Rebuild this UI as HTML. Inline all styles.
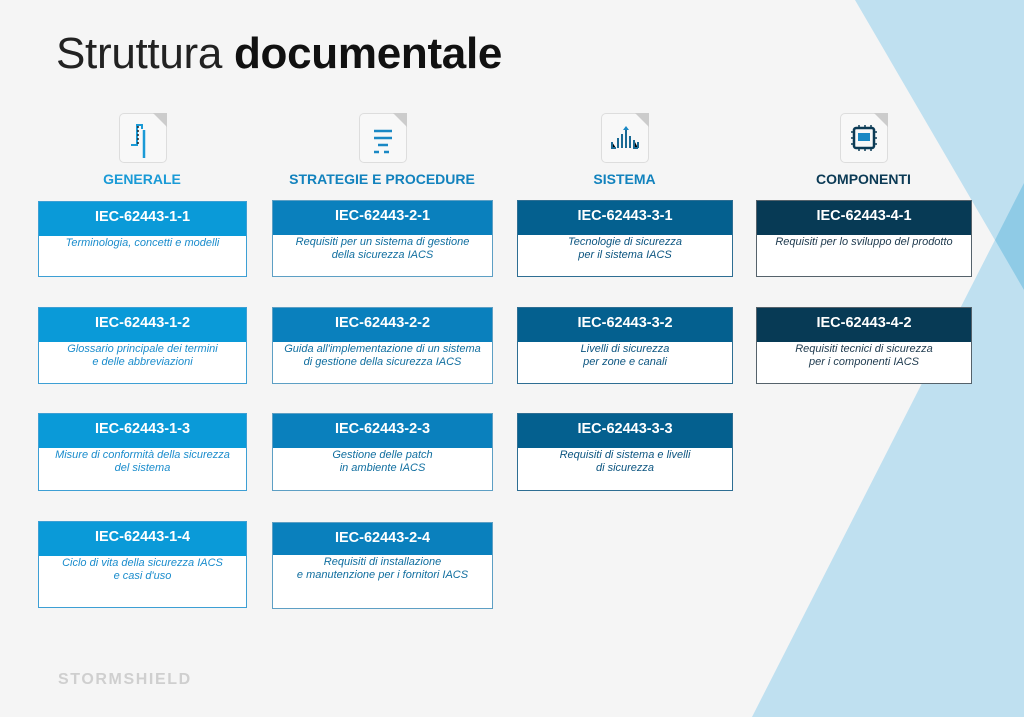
<!DOCTYPE html>
<html><head><meta charset="utf-8"><style>
body{margin:0;width:1024px;height:717px;background:#f5f5f5;position:relative;overflow:hidden;font-family:"Liberation Sans",sans-serif}
.bg{position:absolute;left:0;top:0}
.t{position:absolute;left:56px;top:29px;font-size:44px;color:#111;letter-spacing:-0.3px}
.t span{color:#222}
.t b{font-weight:bold}
.h{position:absolute;top:171px;font-size:14px;font-weight:bold;text-align:center}
.ic{position:absolute;top:113px;width:46px;height:48px;border:1.5px solid #ddd;border-radius:5px;background:#f8f8f8}
.ic:after{content:"";position:absolute;right:-1px;top:-1px;border-style:solid;border-width:0 14px 14px 0;border-color:transparent #ccc transparent transparent}
.b{position:absolute;background:#fff;box-sizing:border-box;border:1.5px solid}
.b .hd{color:#fff;font-weight:bold;font-size:14.5px;text-align:center;height:34px;line-height:30px}
.b .tx{font-style:italic;font-size:11px;text-align:center;line-height:13px;margin-top:1px}
.c1{border-color:#3d9fd4}.c1 .hd{background:#0a9ad8}.c1 .tx{color:#1a8ccc}
.c2{border-color:#5d9fc4}.c2 .hd{background:#0a80bd}.c2 .tx{color:#106e9f}
.c3{border-color:#2e6e93}.c3 .hd{background:#04608f}.c3 .tx{color:#0c5580}
.c4{border-color:#55626b}.c4 .hd{background:#073a55}.c4 .tx{color:#1e3a4e}
.logo{position:absolute;left:58px;top:671px;font-size:16px;font-weight:bold;color:#cfcfcf;letter-spacing:1.6px}
</style></head><body>
<svg class="bg" width="1024" height="717">
<polygon points="855,0 1024,0 1024,290" fill="#bfe0f0"/>
<polygon points="752,717 1024,183 1024,717" fill="#bfe0f0"/>
<polygon points="995,240 1024,183 1024,290" fill="#8fcbe6"/>
</svg>
<div class="t"><span>Struttura</span> <b>documentale</b></div>

<div class="ic" style="left:119px"><svg width="46" height="48"><path d="M11 31h6V11h5v4" stroke="#1a9ad6" stroke-width="2" fill="none"/><path d="M18 12v18" stroke="#222" stroke-width="1.5" stroke-dasharray="2 2"/><path d="M24 16v28" stroke="#1a9ad6" stroke-width="2.5"/></svg></div>
<div class="ic" style="left:359px"><svg width="46" height="48"><path d="M14 17h18M14 24h18M18 31h10M14 38h5M24 38h5" stroke="#1a88c4" stroke-width="2.5"/></svg></div>
<div class="ic" style="left:601px"><svg width="46" height="48"><path d="M10 28v6h4M16 24v10M20 20v14M24 14v20M28 22v12M32 26v8h4M36 28v6" stroke="#1a6a94" stroke-width="2"/><path d="M24 12l-3 4h6z" fill="#1a88c4"/></svg></div>
<div class="ic" style="left:840px"><svg width="46" height="48"><rect x="13" y="14" width="20" height="20" rx="2" fill="none" stroke="#0b3a55" stroke-width="2.5"/><rect x="17" y="19" width="12" height="8" fill="#1a88c4"/><path d="M10 18h3M10 24h3M10 30h3M33 18h3M33 24h3M33 30h3M18 11v3M24 11v3M30 11v3M18 34v3M24 34v3M30 34v3" stroke="#0b3a55" stroke-width="1.5"/></svg></div>

<div class="h" style="left:38px;width:208px;color:#1a9ad6">GENERALE</div>
<div class="h" style="left:272px;width:220px;color:#1282bd">STRATEGIE E PROCEDURE</div>
<div class="h" style="left:517px;width:215px;color:#1282bd">SISTEMA</div>
<div class="h" style="left:756px;width:215px;color:#0b3a55">COMPONENTI</div>

<div class="b c1" style="left:38px;top:201px;width:209px;height:76px"><div class="hd">IEC-62443-1-1</div><div class="tx">Terminologia, concetti e modelli</div></div>
<div class="b c1" style="left:38px;top:307px;width:209px;height:77px"><div class="hd">IEC-62443-1-2</div><div class="tx">Glossario principale dei termini<br>e delle abbreviazioni</div></div>
<div class="b c1" style="left:38px;top:413px;width:209px;height:78px"><div class="hd">IEC-62443-1-3</div><div class="tx">Misure di conformità della sicurezza<br>del sistema</div></div>
<div class="b c1" style="left:38px;top:521px;width:209px;height:87px"><div class="hd">IEC-62443-1-4</div><div class="tx">Ciclo di vita della sicurezza IACS<br>e casi d'uso</div></div>

<div class="b c2" style="left:272px;top:200px;width:221px;height:77px"><div class="hd">IEC-62443-2-1</div><div class="tx">Requisiti per un sistema di gestione<br>della sicurezza IACS</div></div>
<div class="b c2" style="left:272px;top:307px;width:221px;height:77px"><div class="hd">IEC-62443-2-2</div><div class="tx">Guida all'implementazione di un sistema<br>di gestione della sicurezza IACS</div></div>
<div class="b c2" style="left:272px;top:413px;width:221px;height:78px"><div class="hd">IEC-62443-2-3</div><div class="tx">Gestione delle patch<br>in ambiente IACS</div></div>
<div class="b c2" style="left:272px;top:522px;width:221px;height:87px"><div class="hd" style="height:32px">IEC-62443-2-4</div><div class="tx">Requisiti di installazione<br>e manutenzione per i fornitori IACS</div></div>

<div class="b c3" style="left:517px;top:200px;width:216px;height:77px"><div class="hd">IEC-62443-3-1</div><div class="tx">Tecnologie di sicurezza<br>per il sistema IACS</div></div>
<div class="b c3" style="left:517px;top:307px;width:216px;height:77px"><div class="hd">IEC-62443-3-2</div><div class="tx">Livelli di sicurezza<br>per zone e canali</div></div>
<div class="b c3" style="left:517px;top:413px;width:216px;height:78px"><div class="hd">IEC-62443-3-3</div><div class="tx">Requisiti di sistema e livelli<br>di sicurezza</div></div>

<div class="b c4" style="left:756px;top:200px;width:216px;height:77px"><div class="hd">IEC-62443-4-1</div><div class="tx">Requisiti per lo sviluppo del prodotto</div></div>
<div class="b c4" style="left:756px;top:307px;width:216px;height:77px"><div class="hd">IEC-62443-4-2</div><div class="tx">Requisiti tecnici di sicurezza<br>per i componenti IACS</div></div>

<div class="logo">STORMSHIELD</div>
</body></html>
